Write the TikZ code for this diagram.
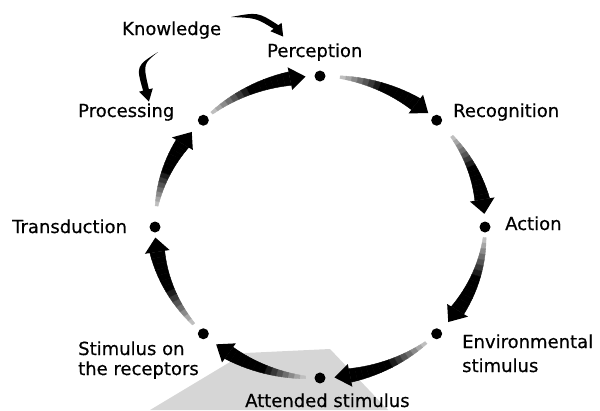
\documentclass[tikz,border=0pt]{standalone}
\usepackage{fontspec}
\setmainfont{DejaVu Sans}
\newfontfamily\lblfont[FakeBold=0.5]{DejaVu Sans}
\usetikzlibrary{calc}
\tikzset{
  lbl/.style={inner sep=0pt, anchor=base west, font=\lblfont\fontsize{18}{20}\selectfont},
  dotst/.style={circle, fill=black, inner sep=0pt, minimum size=11pt},
}
\newcommand\ringarrow[2]{%
  \pgfmathsetmacro\hb{#2+5.5}%
  \foreach \i in {0,...,13}{%
    \pgfmathsetmacro\aa{#1+(\hb-(#1))*\i/14}%
    \pgfmathsetmacro\ab{#1+(\hb-(#1))*(\i+1)/14}%
    \pgfmathsetmacro\rao{165+1.5+6*\i/14}%
    \pgfmathsetmacro\rai{165-1.5-6*\i/14}%
    \pgfmathsetmacro\rbo{165+1.5+6*(\i+1)/14}%
    \pgfmathsetmacro\rbi{165-1.5-6*(\i+1)/14}%
    \pgfmathtruncatemacro\cc{min(100,25+150*\i/14)}%
    \filldraw[black!\cc, line width=0.4pt] (\aa:\rao) -- (\ab:\rbo) -- (\ab:\rbi) -- (\aa:\rai) -- cycle;
  }%
  \fill[black] (\hb:177.5) -- (#2:165) -- (\hb:152.5) -- cycle;
}
\begin{document}
\begin{tikzpicture}[x=1pt,y=-1pt]
\useasboundingbox (0,0) rectangle (600,410);
% light grey scan wedge
\fill[black!16] (150,410) -- (245,353) -- (330,349) -- (388,410) -- cycle;
% ring
\begin{scope}[shift={(320,227)}, yscale=-0.915]
  \ringarrow{131}{95}
  \ringarrow{83}{49}
  \ringarrow{37}{5}
  \ringarrow{-4}{-39}
  \ringarrow{-50}{-85}
  \ringarrow{-95}{-129}
  \ringarrow{-140}{-176}
  \ringarrow{172}{141}
  \node[dotst] (dPer) at (90:165) {};
  \node[dotst] (dRec) at (45:165) {};
  \node[dotst] (dAct) at (0:165) {};
  \node[dotst] (dEnv) at (-45:165) {};
  \node[dotst] (dAtt) at (-90:165) {};
  \node[dotst] (dSti) at (-135:165) {};
  \node[dotst] (dTra) at (180:165) {};
  \node[dotst] (dPro) at (135:165) {};
\end{scope}
% labels
\node[lbl] (know) at (122,35) {Knowledge};
\node[lbl] (perc) at (267,57) {Perception};
\node[lbl] (reco) at (453,117) {Recognition};
\node[lbl] (acti) at (505,230) {Action};
\node[lbl] (envi) at (462,348) {\begin{tabular}[t]{@{}l@{}}Environmental\\[4pt] stimulus\end{tabular}};
\node[lbl] (atte) at (245,407) {Attended stimulus};
\node[lbl] (stim) at (78,355) {\begin{tabular}[t]{@{}l@{}}Stimulus on\\ the receptors\end{tabular}};
\node[lbl] (tran) at (12,233) {Transduction};
\node[lbl] (proc) at (78,117) {Processing};
% knowledge arrows
\fill (231,17) .. controls (258,12) .. (278.4,25.2) -- (281.6,22.8) -- (283.2,36.6) -- (270.4,31.2) -- (273.6,28.8) .. controls (256,18) .. (231,17) -- cycle;
\fill (158,52) .. controls (143,64) .. (148.9,89.3) -- (152.8,88.3) -- (148.9,101.6) -- (139.2,91.7) -- (143.1,90.7) .. controls (136,66) .. (158,52) -- cycle;
\end{tikzpicture}
\end{document}
